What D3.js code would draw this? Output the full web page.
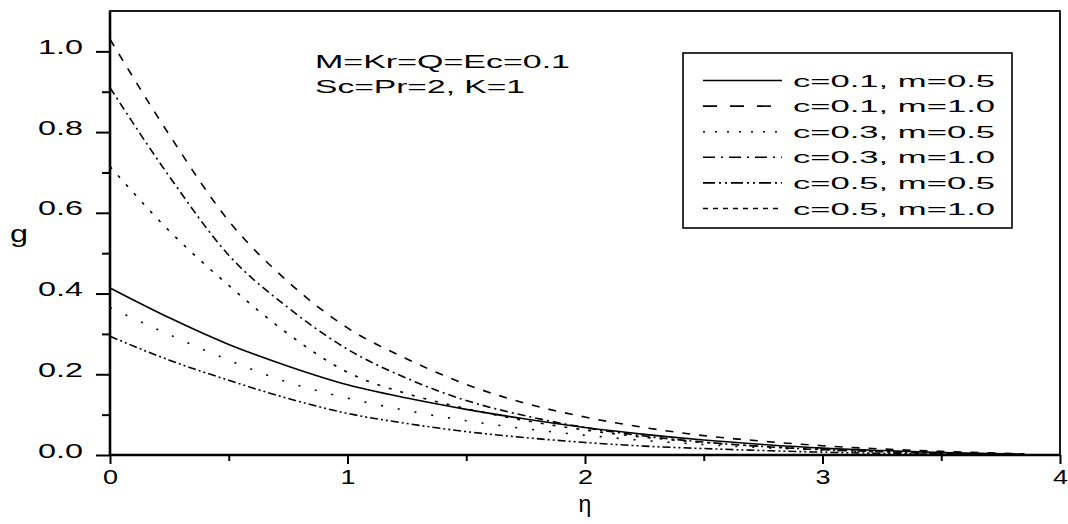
<!DOCTYPE html>
<html>
<head>
<meta charset="utf-8">
<script src="https://cdn.jsdelivr.net/npm/d3@7"></script>
<style>
body { margin: 0; background: #fff; }
text { font-family: "Liberation Sans", Arial, sans-serif; fill: #000; }
</style>
</head>
<body>
<svg id="chart"></svg>
<script>
// eta positions the curves were read at
var eta = [0, 0.25, 0.5, 0.75, 1, 1.25, 1.5, 1.75, 2, 2.25, 2.5, 2.75, 3, 3.25, 3.5, 3.85];

// g values
var g_c01_m05 = [0.414, 0.340, 0.274, 0.220, 0.174, 0.141, 0.113, 0.089, 0.068, 0.051, 0.037, 0.026, 0.017, 0.011, 0.006, 0.002];
var g_c01_m10 = [1.030, 0.793, 0.580, 0.429, 0.315, 0.238, 0.175, 0.128, 0.094, 0.068, 0.048, 0.034, 0.023, 0.015, 0.009, 0.003];
var g_c03_m05 = [0.365, 0.298, 0.235, 0.180, 0.141, 0.110, 0.085, 0.065, 0.049, 0.036, 0.026, 0.018, 0.012, 0.007, 0.004, 0.001];
var g_c03_m10 = [0.910, 0.690, 0.495, 0.365, 0.262, 0.190, 0.135, 0.097, 0.068, 0.047, 0.032, 0.021, 0.013, 0.008, 0.004, 0.001];
var g_c05_m05 = [0.294, 0.235, 0.185, 0.140, 0.103, 0.078, 0.058, 0.043, 0.031, 0.022, 0.016, 0.011, 0.007, 0.004, 0.002, 0.001];
var g_c05_m10 = [0.715, 0.555, 0.420, 0.300, 0.205, 0.152, 0.115, 0.085, 0.062, 0.044, 0.031, 0.021, 0.014, 0.009, 0.005, 0.002];

var seriesNames = ["c=0.1, m=0.5", "c=0.1, m=1.0", "c=0.3, m=0.5", "c=0.3, m=1.0", "c=0.5, m=0.5", "c=0.5, m=1.0"];
var seriesValues = [g_c01_m05, g_c01_m10, g_c03_m05, g_c03_m10, g_c05_m05, g_c05_m10];

var xTicks = [0, 1, 2, 3, 4];
var xMinor = [0.5, 1.5, 2.5, 3.5];
var yTicks = [0, 0.2, 0.4, 0.6, 0.8, 1.0];
var yMinor = [0.1, 0.3, 0.5, 0.7, 0.9];
var notes = ["M=Kr=Q=Ec=0.1", "Sc=Pr=2, K=1"];

// line styles: [curve dash, legend dash]
var dashes = [
  [null, null],
  ["8,9", "14,13"],
  ["2,15", "2,10"],
  ["8,4,2,4", "12,6,2,6"],
  ["8,3,2,3,2,3", "12,4,2,4,2,4"],
  ["3,9", "5,5"]
];

var margin = {top: 11, right: 8, bottom: 69, left: 110},
    width = 1068 - margin.left - margin.right,
    height = 524 - margin.top - margin.bottom;

var svgRoot = d3.select("#chart")
    .attr("width", width + margin.left + margin.right)
    .attr("height", height + margin.top + margin.bottom);

var svg = svgRoot.append("g")
    .attr("transform", "translate(" + margin.left + "," + margin.top + ")");

var x = d3.scaleLinear().domain([0, 4]).range([0, width]);
var y = d3.scaleLinear().domain([0, 1.1]).range([height, 0]);

// x axis
var xAxis = svg.append("g")
    .attr("transform", "translate(0," + height + ")")
    .call(d3.axisBottom(x).tickValues(xTicks).tickSize(9).tickSizeOuter(0).tickFormat(d3.format("d")));
xAxis.select(".domain").remove();
xAxis.selectAll("line").attr("stroke", "#000").attr("stroke-width", 2);
xAxis.selectAll("text")
    .attr("y", 29).attr("dy", 0)
    .style("font-size", "20px")
    .attr("textLength", 15).attr("lengthAdjust", "spacingAndGlyphs");

var xAxisMinor = svg.append("g")
    .attr("transform", "translate(0," + height + ")")
    .call(d3.axisBottom(x).tickValues(xMinor).tickSize(6).tickSizeOuter(0).tickFormat(""));
xAxisMinor.select(".domain").remove();
xAxisMinor.selectAll("line").attr("stroke", "#000").attr("stroke-width", 2);

// y axis
var yAxis = svg.append("g")
    .call(d3.axisLeft(y).tickValues(yTicks).tickSize(14).tickSizeOuter(0).tickFormat(d3.format(".1f")));
yAxis.select(".domain").remove();
yAxis.selectAll("line").attr("stroke", "#000").attr("stroke-width", 2);
yAxis.selectAll("text")
    .attr("x", -27).attr("dy", 2)
    .style("font-size", "20px")
    .attr("textLength", 45).attr("lengthAdjust", "spacingAndGlyphs");

var yAxisMinor = svg.append("g")
    .call(d3.axisLeft(y).tickValues(yMinor).tickSize(8).tickSizeOuter(0).tickFormat(""));
yAxisMinor.select(".domain").remove();
yAxisMinor.selectAll("line").attr("stroke", "#000").attr("stroke-width", 2);

// frame
svg.append("rect")
    .attr("x", 0).attr("y", 0)
    .attr("width", width).attr("height", height)
    .attr("fill", "none").attr("stroke", "#000").attr("stroke-width", 1.8);
svg.append("line")
    .attr("x1", 0).attr("x2", 0).attr("y1", 0).attr("y2", height)
    .attr("stroke", "#000").attr("stroke-width", 2.6);
svg.append("line")
    .attr("x1", 0).attr("x2", width).attr("y1", height).attr("y2", height)
    .attr("stroke", "#000").attr("stroke-width", 2.4);

// curves
var line = d3.line()
    .x(function(d) { return x(d[0]); })
    .y(function(d) { return y(d[1]); })
    .curve(d3.curveMonotoneX);

seriesValues.forEach(function(vals, i) {
  var pts = eta.map(function(e, j) { return [e, vals[j]]; });
  svg.append("path")
    .datum(pts)
    .attr("d", line)
    .attr("fill", "none")
    .attr("stroke", "#000")
    .attr("stroke-width", 1.6)
    .attr("stroke-dasharray", dashes[i][0]);
});

// axis titles
svgRoot.append("text")
    .attr("x", 10).attr("y", 242)
    .style("font-size", "24px")
    .attr("textLength", 18).attr("lengthAdjust", "spacingAndGlyphs")
    .text("g");
svgRoot.append("text")
    .attr("x", margin.left + x(2)).attr("y", 512)
    .attr("text-anchor", "middle")
    .style("font-size", "23px")
    .text("η");

// annotation
notes.forEach(function(t, i) {
  svgRoot.append("text")
    .attr("x", 315).attr("y", 68 + i * 25)
    .style("font-size", "18px")
    .attr("textLength", i === 0 ? 255 : 210)
    .attr("lengthAdjust", "spacingAndGlyphs")
    .text(t);
});

// legend
var legend = svgRoot.append("g");
legend.append("rect")
    .attr("x", 683).attr("y", 53)
    .attr("width", 329).attr("height", 175)
    .attr("fill", "#fff").attr("stroke", "#000").attr("stroke-width", 1.6);

seriesNames.forEach(function(name, i) {
  var by = 86.5 + i * 25.6;
  legend.append("line")
    .attr("x1", 703).attr("x2", 782)
    .attr("y1", by - 6).attr("y2", by - 6)
    .attr("stroke", "#000").attr("stroke-width", 1.6)
    .attr("stroke-dasharray", dashes[i][1]);
  legend.append("text")
    .attr("x", 793).attr("y", by)
    .style("font-size", "17px")
    .attr("textLength", 202)
    .attr("lengthAdjust", "spacingAndGlyphs")
    .text(name);
});
</script>
</body>
</html>
